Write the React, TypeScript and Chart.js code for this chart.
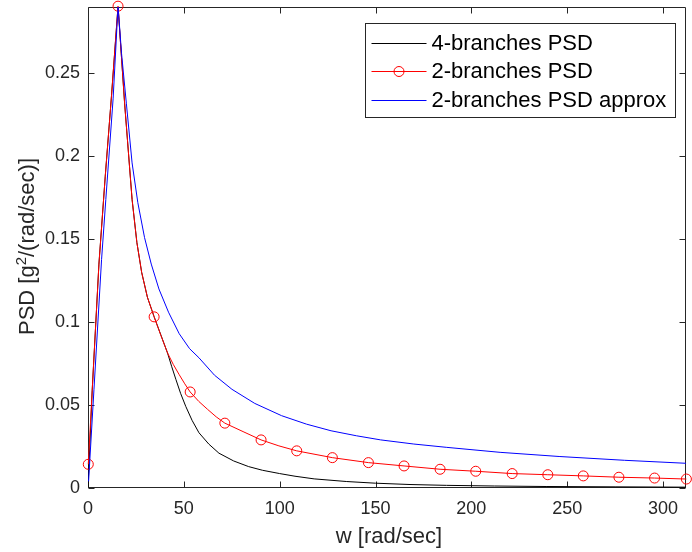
import React, { useEffect, useRef } from "react";
import { Chart, registerables } from "chart.js";

Chart.register(...registerables);

// ---------- data ----------
const xTicks = [0, 50, 100, 150, 200, 250, 300];
const yTicks = [0, 0.05, 0.1, 0.15, 0.2, 0.25];
const xMax = 312;
const yMax = 0.29;

// 4-branches PSD (black)
const blackW = [0, 2.2, 5.7, 9, 12.3, 15.67, 19.1, 23, 25.5, 28, 31, 34.5, 41.5, 43.7, 45.9, 48.3, 51, 54.3, 57.9, 63, 68.3, 76, 83.8, 91, 100, 108, 118, 135, 150, 168, 187, 212, 239, 275, 312];
const blackPSD = [0, 0.059, 0.135, 0.188, 0.237, 0.2905, 0.232, 0.174, 0.148, 0.13, 0.115, 0.1032, 0.0814, 0.0731, 0.0653, 0.0571, 0.0492, 0.0408, 0.0333, 0.0265, 0.021, 0.0163, 0.0129, 0.0107, 0.0087, 0.0071, 0.0055, 0.0039, 0.0029, 0.0021, 0.0016, 0.0012, 0.0009, 0.0007, 0.0005];

// 2-branches PSD (red, with circle markers)
const redW = [0.15, 2.2, 5.7, 9, 12.3, 15.67, 19.1, 23, 25.5, 28, 31, 34.5, 38, 41.5, 44.5, 47.6, 50.5, 53.3, 57.8, 62.4, 66.9, 71.4, 80.9, 90.3, 99.6, 108.9, 127.5, 146.3, 164.9, 183.7, 202.3, 221.3, 239.9, 258.4, 277, 295.6, 312.2];
const redPSD = [0.0143, 0.059, 0.135, 0.188, 0.237, 0.2905, 0.232, 0.174, 0.148, 0.13, 0.115, 0.1032, 0.0921, 0.0814, 0.0745, 0.0683, 0.0628, 0.0579, 0.0522, 0.0474, 0.0429, 0.0391, 0.034, 0.029, 0.0254, 0.0224, 0.0183, 0.0153, 0.0133, 0.0113, 0.0101, 0.0087, 0.008, 0.0073, 0.0065, 0.006, 0.0054];
const redMarkerW = [0.15, 15.67, 34.5, 53.3, 71.4, 90.3, 108.9, 127.5, 146.3, 164.9, 183.7, 202.3, 221.3, 239.9, 258.4, 277, 295.6, 312.2];

// 2-branches PSD approx (blue)
const blueW = [0.3, 3.1, 7.08, 9.3, 13.1, 15.67, 17.5, 20, 23, 26, 29.5, 33, 37, 42, 47.6, 53, 57.9, 66, 75.1, 87, 101, 114, 126.8, 140, 152.7, 170, 187.2, 215, 245.8, 280, 312];
const bluePSD = [0.004, 0.0592, 0.1378, 0.174, 0.2346, 0.2905, 0.262, 0.232, 0.196, 0.172, 0.151, 0.135, 0.12, 0.106, 0.093, 0.084, 0.0785, 0.068, 0.0595, 0.051, 0.0436, 0.0385, 0.0345, 0.0315, 0.029, 0.0265, 0.0245, 0.0215, 0.019, 0.0167, 0.0149];

const seriesLabels = ["4-branches PSD", "2-branches PSD", "2-branches PSD approx"];

const FONT = "'Liberation Sans', Arial, Helvetica, sans-serif";
const AXIS_COLOR = "#262626";

const toPoints = (xs: number[], ys: number[]) => xs.map((x, i) => ({ x, y: ys[i] }));

const framePlugin = {
  id: "matlabFrame",
  beforeDatasetsDraw(chart: any) {
    const { ctx, chartArea, scales } = chart;
    const { left, right, top, bottom } = chartArea;
    const L = left + 0.5, R = right - 0.5, T = top + 0.5, B = bottom - 0.5;
    ctx.save();
    ctx.strokeStyle = AXIS_COLOR;
    ctx.lineWidth = 1;
    ctx.beginPath();
    ctx.moveTo(L, T); ctx.lineTo(R, T); ctx.lineTo(R, B); ctx.lineTo(L, B); ctx.closePath();
    ctx.stroke();
    const tl = 6;
    ctx.beginPath();
    for (const v of xTicks) {
      const px = Math.round(scales.x.getPixelForValue(v)) + 0.5;
      ctx.moveTo(px, B); ctx.lineTo(px, B - tl);
      ctx.moveTo(px, T); ctx.lineTo(px, T + tl);
    }
    for (const v of yTicks) {
      const py = Math.round(scales.y.getPixelForValue(v)) + 0.5;
      ctx.moveTo(L, py); ctx.lineTo(L + tl, py);
      ctx.moveTo(R, py); ctx.lineTo(R - tl, py);
    }
    ctx.stroke();

    // axis titles
    ctx.fillStyle = AXIS_COLOR;
    ctx.font = `22px ${FONT}`;
    ctx.textAlign = "center";
    ctx.textBaseline = "alphabetic";
    ctx.fillText("w [rad/sec]", (left + right) / 2 + 2, bottom + 55);

    // y title with superscript
    const p1 = "PSD [g";
    const sup = "2";
    const p2 = "/(rad/sec)]";
    ctx.font = `22px ${FONT}`;
    const w1 = ctx.measureText(p1).width;
    const w3 = ctx.measureText(p2).width;
    ctx.font = `15px ${FONT}`;
    const w2 = ctx.measureText(sup).width;
    const total = w1 + w2 + w3;
    ctx.save();
    ctx.translate(34, (top + bottom) / 2 - 1);
    ctx.rotate(-Math.PI / 2);
    ctx.textAlign = "left";
    let sx = -total / 2;
    ctx.font = `22px ${FONT}`;
    ctx.fillText(p1, sx, 0);
    sx += w1;
    ctx.font = `15px ${FONT}`;
    ctx.fillText(sup, sx, -8);
    sx += w2;
    ctx.font = `22px ${FONT}`;
    ctx.fillText(p2, sx, 0);
    ctx.restore();
    ctx.restore();
  },
};

const legendPlugin = {
  id: "matlabLegend",
  afterDatasetsDraw(chart: any) {
    const { ctx, chartArea } = chart;
    const datasets = chart.data.datasets;
    ctx.save();
    ctx.font = `22px ${FONT}`;
    let maxW = 0;
    for (const ds of datasets) maxW = Math.max(maxW, ctx.measureText(ds.label).width);
    const lineLen = 55;
    const padL = 6, gap = 5, padR = 9;
    const boxW = Math.round(padL + lineLen + gap + maxW + padR);
    const rowH = 28.7;
    const boxH = 94;
    const bx = Math.round(chartArea.right - 11 - boxW) + 0.5;
    const by = chartArea.top + 16.5;
    ctx.fillStyle = "#ffffff";
    ctx.fillRect(bx, by, boxW, boxH);
    ctx.strokeStyle = AXIS_COLOR;
    ctx.lineWidth = 1;
    ctx.strokeRect(bx, by, boxW, boxH);
    datasets.forEach((ds: any, i: number) => {
      const cy = by + 19.2 + i * rowH;
      const x0 = bx + padL;
      ctx.strokeStyle = ds.borderColor;
      ctx.lineWidth = 1;
      ctx.beginPath();
      ctx.moveTo(x0, Math.round(cy) + 0.5);
      ctx.lineTo(x0 + lineLen, Math.round(cy) + 0.5);
      ctx.stroke();
      if (ds.legendMarker) {
        ctx.beginPath();
        ctx.arc(x0 + lineLen / 2, Math.round(cy) + 0.5, 5, 0, Math.PI * 2);
        ctx.stroke();
      }
      ctx.fillStyle = "#000000";
      ctx.textAlign = "left";
      ctx.textBaseline = "middle";
      ctx.fillText(ds.label, x0 + lineLen + gap, cy + 1);
    });
    ctx.restore();
  },
};

const zeroPad = (s: any) => {
  s.paddingTop = 0;
  s.paddingBottom = 0;
  s.paddingLeft = 0;
  s.paddingRight = 0;
};

export default function App() {
  const canvasRef = useRef<HTMLCanvasElement | null>(null);

  useEffect(() => {
    if (!canvasRef.current) return;
    const chart = new Chart(canvasRef.current, {
      type: "line",
      data: {
        datasets: [
          {
            label: seriesLabels[0],
            data: toPoints(blackW, blackPSD),
            borderColor: "#000000",
            borderWidth: 1,
            pointRadius: 0,
            tension: 0,
            fill: false,
            order: 3,
          } as any,
          {
            label: seriesLabels[1],
            data: toPoints(redW, redPSD),
            borderColor: "#ff0000",
            borderWidth: 1,
            pointRadius: (ctx: any) => (redMarkerW.includes(redW[ctx.dataIndex]) ? 5 : 0),
            pointStyle: "circle",
            pointBorderColor: "#ff0000",
            pointBackgroundColor: "rgba(0,0,0,0)",
            pointBorderWidth: 1,
            tension: 0,
            fill: false,
            clip: false,
            order: 2,
            legendMarker: true,
          } as any,
          {
            label: seriesLabels[2],
            data: toPoints(blueW, bluePSD),
            borderColor: "#0000ff",
            borderWidth: 1,
            pointRadius: 0,
            tension: 0,
            fill: false,
            order: 1,
          } as any,
        ],
      },
      options: {
        animation: false,
        responsive: true,
        maintainAspectRatio: false,
        devicePixelRatio: 1,
        layout: { padding: { top: 7, right: 1, left: 0, bottom: 0 } },
        plugins: { legend: { display: false }, tooltip: { enabled: false } },
        events: [],
        scales: {
          x: {
            type: "linear",
            min: 0,
            max: xMax,
            grid: { display: false, drawTicks: false },
            border: { display: false },
            ticks: {
              padding: 10,
              color: AXIS_COLOR,
              font: { size: 18, family: FONT },
              maxRotation: 0,
              autoSkip: false,
              callback: (v: any) => String(v),
            },
            afterBuildTicks: (s: any) => {
              s.ticks = xTicks.map((v) => ({ value: v }));
            },
            afterFit: (s: any) => {
              s.height = 64;
              zeroPad(s);
            },
          },
          y: {
            type: "linear",
            min: 0,
            max: yMax,
            grid: { display: false, drawTicks: false },
            border: { display: false },
            ticks: {
              padding: 8,
              color: AXIS_COLOR,
              font: { size: 18, family: FONT },
              autoSkip: false,
              callback: (v: any) => String(Math.round(Number(v) * 100) / 100),
            },
            afterBuildTicks: (s: any) => {
              s.ticks = yTicks.map((v) => ({ value: v }));
            },
            afterFit: (s: any) => {
              s.width = 88;
              zeroPad(s);
            },
          },
        },
      } as any,
      plugins: [framePlugin, legendPlugin],
    });
    return () => chart.destroy();
  }, []);

  return (
    <div style={{ position: "absolute", left: 0, top: 0, width: 692, height: 552, background: "#fff" }}>
      <canvas ref={canvasRef} />
    </div>
  );
}
